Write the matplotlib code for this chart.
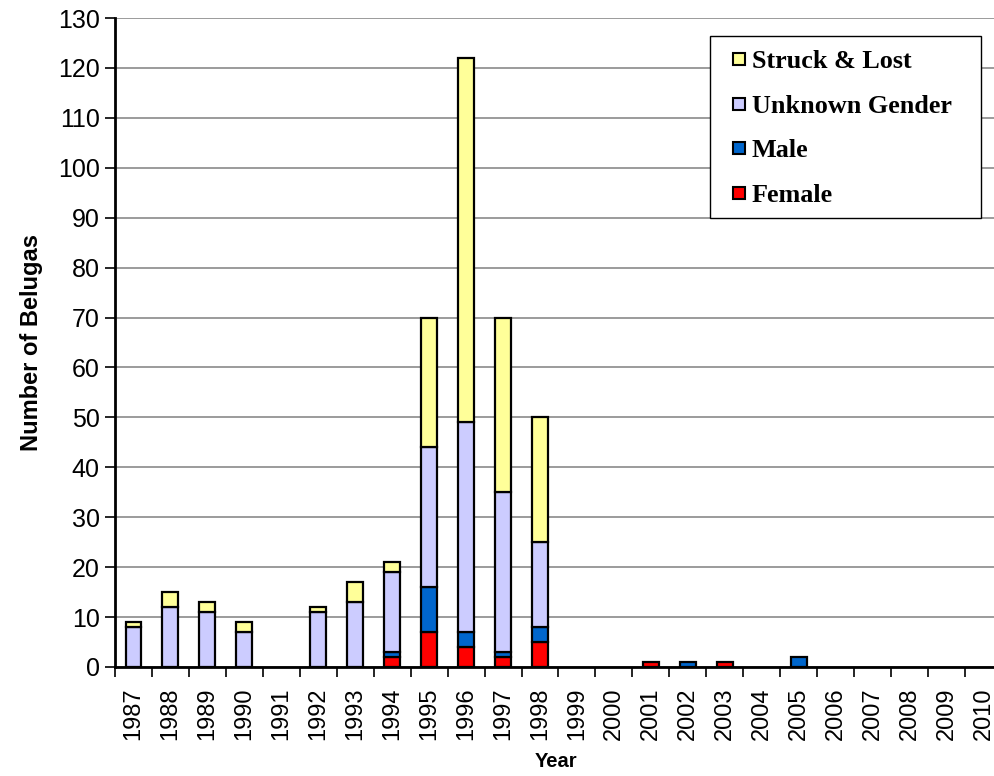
import numpy as np
import matplotlib
matplotlib.use("Agg")
import matplotlib.pyplot as plt
from matplotlib.ticker import FixedLocator, NullFormatter
from matplotlib.legend_handler import HandlerPatch
from matplotlib.patches import Rectangle
from matplotlib.container import BarContainer

years = [str(y) for y in range(1987, 2011)]
female = [0, 0, 0, 0, 0, 0, 0, 2, 7, 4, 2, 5, 0, 0, 1, 0, 1, 0, 0, 0, 0, 0, 0, 0]
male = [0, 0, 0, 0, 0, 0, 0, 1, 9, 3, 1, 3, 0, 0, 0, 1, 0, 0, 2, 0, 0, 0, 0, 0]
unknown = [8, 12, 11, 7, 0, 11, 13, 16, 28, 42, 32, 17, 0, 0, 0, 0, 0, 0, 0, 0, 0, 0, 0, 0]
struck = [1, 3, 2, 2, 0, 1, 4, 2, 26, 73, 35, 25, 0, 0, 0, 0, 0, 0, 0, 0, 0, 0, 0, 0]

series = [
    ("Female", female, "#FF0000"),
    ("Male", male, "#0066CC"),
    ("Unknown Gender", unknown, "#CCCCFF"),
    ("Struck & Lost", struck, "#FFFF99"),
]

plt.rcParams["font.family"] = ["Liberation Sans", "DejaVu Sans"]

W, H = 995, 776
fig = plt.figure(figsize=(W / 100, H / 100), dpi=100)
ax_l, ax_r, ax_t, ax_b = 115, 1002, 18, 667
ax = fig.add_axes([ax_l / W, 1 - ax_b / H, (ax_r - ax_l) / W, (ax_b - ax_t) / H])
aw, ah = ax_r - ax_l, ax_b - ax_t

x = np.arange(len(years))
bottom = np.zeros(len(years))
handles = []
for name, vals, color in series:
    vals = np.array(vals, dtype=float)
    mask = vals > 0
    bars = ax.bar(x[mask], vals[mask], width=0.43, bottom=bottom[mask], color=color,
                  edgecolor="black", linewidth=1.6, label=name, zorder=3)
    handles.append(bars)
    bottom += vals

ax.set_xlim(-0.5, len(years) - 0.5)
ax.set_ylim(0, 130)
ax.set_yticks(np.arange(0, 131, 10))
ax.yaxis.grid(True, color="#808080", linewidth=1.1, zorder=0)
ax.set_axisbelow(True)

# category boundaries carry the tick marks, labels sit at bar centres
ax.xaxis.set_major_locator(FixedLocator(np.arange(-0.5, len(years), 1.0)))
ax.xaxis.set_major_formatter(NullFormatter())
ax.xaxis.set_minor_locator(FixedLocator(x))
ax.set_xticklabels(years, minor=True, rotation=90, fontsize=17)
ax.tick_params(axis="x", which="major", direction="out", length=7, width=1.2, color="black")
ax.tick_params(axis="x", which="minor", length=0, pad=15)
ax.tick_params(axis="y", direction="out", length=7, width=1.2, labelsize=18, pad=4)

for side in ("top", "right"):
    ax.spines[side].set_visible(False)
for side in ("left", "bottom"):
    ax.spines[side].set_linewidth(2)
    ax.spines[side].set_color("black")

ax.set_ylabel("Number of Belugas", fontsize=17, fontweight="bold")
ax.yaxis.set_label_coords(-(ax_l - 43) / aw, 0.5)
ax.set_xlabel("Year", fontsize=14.5, fontweight="bold")
ax.xaxis.set_label_coords(0.5 - (ax_l + aw / 2 - 556) / aw, -(752 - ax_b) / ah)


def small_square(legend, orig_handle, xdescent, ydescent, width, height, fontsize):
    side = 0.46 * fontsize
    return Rectangle((width - side - xdescent, (height - side) / 2 - ydescent), side, side)


def copy_bar_style(tgt, src):
    first = src.patches[0]
    tgt.set_facecolor(first.get_facecolor())
    tgt.set_edgecolor("black")
    tgt.set_linewidth(1.5)


fs = 18.8
leg = ax.legend(handles[::-1], [s[0] for s in series][::-1],
                loc="upper left",
                bbox_to_anchor=((710 - ax_l) / aw, (ax_b - 36) / ah),
                prop={"family": "Liberation Serif", "weight": "bold", "size": fs},
                frameon=False,
                handler_map={BarContainer: HandlerPatch(patch_func=small_square,
                                                        update_func=copy_bar_style)},
                handlelength=0.88, handleheight=1.0, handletextpad=0.27,
                labelspacing=0.72, borderpad=0.45, borderaxespad=0)
leg.set_zorder(6)

# legend box
box = Rectangle((710 / W, 1 - 218 / H), (981 - 710) / W, (218 - 36) / H,
                transform=fig.transFigure, facecolor="white", edgecolor="black",
                linewidth=1.0, zorder=5)
ax.add_artist(box)
box.set_clip_on(False)

fig.savefig("out.png", dpi=100)
